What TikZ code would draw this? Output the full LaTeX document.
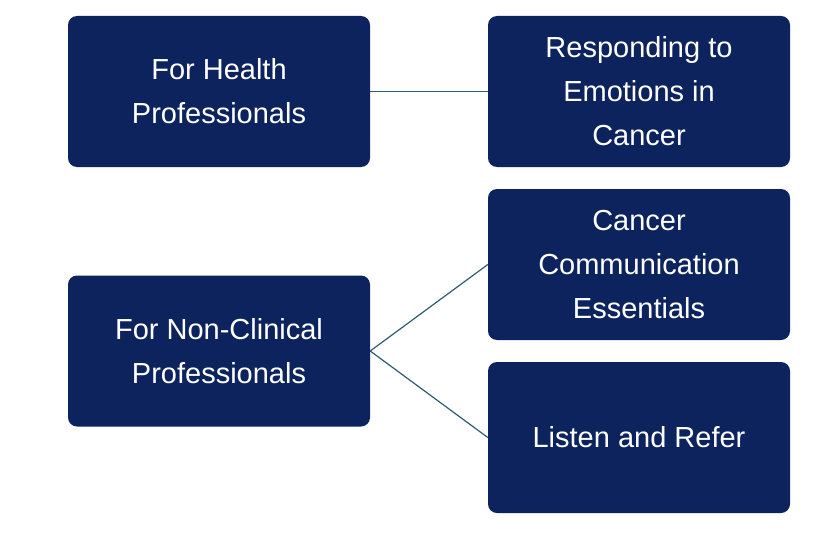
\documentclass[tikz,border=0pt]{standalone}
\usepackage{fontspec}
\setmainfont{Liberation Sans}
\definecolor{boxnavy}{RGB}{12,35,94}
\definecolor{linkteal}{RGB}{46,92,110}
\begin{document}
\begin{tikzpicture}[x=1pt,y=1pt,
  topic/.style={fill=boxnavy, rounded corners=9pt, minimum width=302pt, minimum height=151pt,
    text=white, align=center, font=\fontsize{29}{44}\selectfont, inner sep=0pt},
  link/.style={draw=linkteal, line width=1.2pt}]
\useasboundingbox (0,0) rectangle (826,550);

% left column
\node[topic] (health) at (219,458.5) {For Health\\Professionals};
\node[topic] (nonclin) at (219,199) {For Non-Clinical\\Professionals};

% right column
\node[topic] (emotions) at (639,458.5) {Responding to\\Emotions in\\Cancer};
\node[topic] (essentials) at (639,285.5) {Cancer\\Communication\\Essentials};
\node[topic] (refer) at (639,112.5) {Listen and Refer};

\draw[link] (health.east) -- (emotions.west);
\draw[link] (nonclin.east) -- (essentials.west);
\draw[link] (nonclin.east) -- (refer.west);
\end{tikzpicture}
\end{document}
